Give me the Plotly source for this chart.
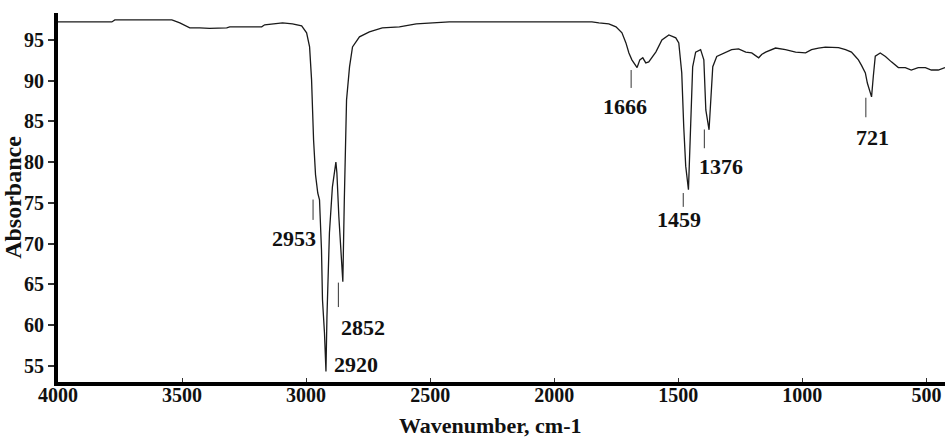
import plotly.graph_objects as go

# FTIR spectrum: wavenumber (cm-1) and absorbance readings
wavenumber = [4000, 3783, 3771, 3541, 3509, 3469, 3429, 3389, 3320, 3308,
              3179, 3167, 3095, 3055, 3018, 2998, 2986, 2978, 2974, 2970,
              2962, 2958, 2953, 2946, 2938, 2934, 2926, 2920, 2916, 2906,
              2894, 2880, 2876, 2868, 2860, 2852, 2846, 2837, 2825, 2813,
              2785, 2745, 2693, 2624, 2556, 2492, 2423, 2154, 1848, 1820,
              1780, 1751, 1727, 1711, 1699, 1687, 1666, 1655, 1643, 1631,
              1619, 1590, 1566, 1538, 1510, 1498, 1486, 1478, 1470, 1459,
              1450, 1442, 1430, 1410, 1397, 1389, 1376, 1370, 1361, 1345,
              1309, 1285, 1257, 1228, 1204, 1176, 1164, 1148, 1108, 1068,
              1027, 987, 963, 935, 907, 883, 854, 826, 802, 786,
              774, 762, 746, 738, 721, 714, 706, 686, 665, 641,
              613, 585, 561, 533, 504, 480, 452, 425]
absorbance = [97.2, 97.2, 97.45, 97.45, 97.09, 96.47, 96.47, 96.41, 96.47, 96.6,
              96.6, 96.85, 97.09, 96.97, 96.72, 95.86, 94.14, 90.09, 86.41, 82.73,
              78.43, 76.96, 76.2, 75.37, 69.23, 63.1, 59.05, 54.3, 61.0, 71.32,
              76.96, 80.0, 78.68, 73.28, 69.23, 65.3, 75.37, 87.64, 91.69, 94.14,
              95.37, 95.98, 96.47, 96.6, 96.97, 97.09, 97.2, 97.2, 97.2, 97.09,
              96.97, 96.6, 95.86, 94.63, 93.4, 92.55, 91.6, 92.55, 92.8, 92.18,
              92.3, 93.53, 95.0, 95.61, 95.25, 94.63, 90.95, 84.33, 79.5, 76.6,
              83.6, 91.7, 93.5, 93.8, 92.55, 86.4, 83.96, 87.6, 91.7, 92.96,
              93.5, 93.8, 93.9, 93.5, 93.4, 92.8, 93.2, 93.5, 94.0, 93.8,
              93.5, 93.4, 93.8, 94.0, 94.1, 94.1, 94.05, 93.8, 93.5, 92.96,
              92.55, 91.9, 90.95, 89.7, 88.0, 90.5, 93.0, 93.4, 92.96, 92.3,
              91.6, 91.6, 91.3, 91.6, 91.6, 91.3, 91.3, 91.6]

# labelled bands
peaks = [2953, 2920, 2852, 1666, 1459, 1376, 721]

x_ticks = [4000, 3500, 3000, 2500, 2000, 1500, 1000, 500]
y_ticks = [55, 60, 65, 70, 75, 80, 85, 90, 95]

# label placement (data coords) and the short leader marks under each band
label_pos = {2953: (3049, 70.6), 2920: (2799, 55.2), 2852: (2771, 59.7),
             1666: (1713, 86.8), 1459: (1496, 72.9), 1376: (1327, 79.4),
             721: (718, 83.0)}
leader = {2953: (2972, 75.4, 72.9), 2852: (2870, 65.2, 62.2),
          1666: (1690, 91.3, 89.1), 1459: (1480, 76.2, 74.5),
          1376: (1395, 84.0, 81.7), 721: (744, 87.9, 85.5)}

SERIF = "Liberation Serif"

fig = go.Figure()
fig.add_trace(go.Scatter(x=wavenumber, y=absorbance, mode="lines",
                         line=dict(color="#1a1a1a", width=1.3),
                         hoverinfo="skip", showlegend=False))

for p in peaks:
    lx, ly = label_pos[p]
    fig.add_annotation(x=lx, y=ly, xref="x", yref="y", text=str(p),
                       showarrow=False,
                       font=dict(family=SERIF, size=22, color="#111", weight="bold"))
    if p in leader:
        tx, y0, y1 = leader[p]
        fig.add_shape(type="line", xref="x", yref="y", x0=tx, x1=tx, y0=y0, y1=y1,
                      line=dict(color="#333", width=1))

# x-axis title, placed just under the tick labels
fig.add_annotation(x=0.488, y=-0.118, xref="paper", yref="paper",
                   xanchor="center", yanchor="middle", showarrow=False,
                   text="Wavenumber, cm-1",
                   font=dict(family=SERIF, size=22, color="#111", weight="bold"))

fig.update_layout(
    width=945, height=439,
    margin=dict(l=58, r=0, t=13, b=57),
    paper_bgcolor="white", plot_bgcolor="white",
    font=dict(family=SERIF, color="#111"),
)
fig.update_xaxes(
    range=[4000, 425], tickvals=x_ticks, ticktext=[str(v) for v in x_ticks],
    showline=True, linecolor="black", linewidth=4, mirror=False,
    showgrid=False, zeroline=False,
    ticks="inside", ticklen=4, tickwidth=1, tickcolor="#333",
    ticklabelstandoff=-8,
    tickfont=dict(family=SERIF, size=20, color="#111", weight="bold"),
)
fig.update_yaxes(
    range=[53.0, 98.3], tickvals=y_ticks, ticktext=[str(v) for v in y_ticks],
    showline=True, linecolor="black", linewidth=4, mirror=False,
    showgrid=False, zeroline=False,
    ticks="outside", ticklen=6, tickwidth=1.5, tickcolor="#333",
    tickfont=dict(family=SERIF, size=20, color="#111", weight="bold"),
    title=dict(text="Absorbance", standoff=2,
               font=dict(family=SERIF, size=24, color="#111", weight="bold")),
)

fig.write_html("out.html")
